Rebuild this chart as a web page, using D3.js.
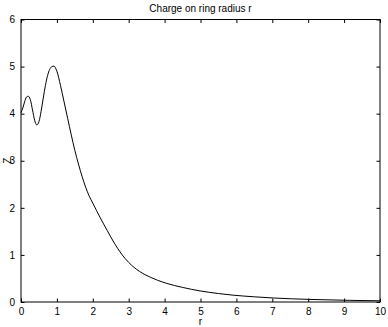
<!DOCTYPE html>
<html><head><meta charset="utf-8">
<script src="https://cdn.jsdelivr.net/npm/d3@7"></script>
<style>
html,body{margin:0;padding:0;background:#fff;}
svg text{font-family:"Liberation Sans",Arial,Helvetica,sans-serif;fill:#000;}
</style>
</head><body>
<svg id="chart" width="388" height="327"></svg>
<script>
const titleText = "Charge on ring radius r";
const xLabel = "r";
const yLabel = "Z";
const xTicks = [0,1,2,3,4,5,6,7,8,9,10];
const yTicks = [0,1,2,3,4,5,6];
const rValues = [0, 0.05, 0.1, 0.15, 0.2, 0.26, 0.32, 0.38, 0.44, 0.5, 0.56, 0.62, 0.68, 0.74, 0.8, 0.86, 0.92, 1.0, 1.1, 1.2, 1.3, 1.4, 1.5, 1.6, 1.7, 1.8, 1.9, 2.0, 2.2, 2.4, 2.6, 2.8, 3.0, 3.15, 3.3, 3.45, 3.6, 3.8, 4.06, 4.5, 4.99, 5.5, 5.91, 6.5, 7.03, 8.05, 9.16, 10];
const zValues = [4.02, 4.12, 4.25, 4.35, 4.37, 4.3, 4.08, 3.86, 3.76, 3.83, 4.05, 4.33, 4.6, 4.81, 4.94, 5.0, 5.01, 4.9, 4.6, 4.25, 3.9, 3.55, 3.22, 2.93, 2.67, 2.44, 2.25, 2.1, 1.8, 1.52, 1.25, 1.02, 0.84, 0.735, 0.65, 0.583, 0.527, 0.463, 0.395, 0.31, 0.235, 0.18, 0.145, 0.11, 0.085, 0.055, 0.035, 0.025];

const data = rValues.map((r,i)=>({r, z:zValues[i]}));
const svg = d3.select("#chart");
const m = {left:21, right:380, top:19.5, bottom:302};
const x = d3.scaleLinear().domain([0,10]).range([m.left, m.right]);
const y = d3.scaleLinear().domain([0,6]).range([m.bottom, m.top]);
const tl = 3.5;

svg.append("rect").attr("x",m.left).attr("y",m.top)
  .attr("width",m.right-m.left).attr("height",m.bottom-m.top)
  .attr("fill","none").attr("stroke","#000").attr("stroke-width",1);

const xb = svg.append("g").attr("transform",`translate(0,${m.bottom})`)
  .call(d3.axisBottom(x).tickValues(xTicks).tickSizeInner(-tl).tickSizeOuter(0).tickPadding(6).tickFormat(d3.format("d")));
const xt = svg.append("g").attr("transform",`translate(0,${m.top})`)
  .call(d3.axisTop(x).tickValues(xTicks).tickSizeInner(-tl).tickSizeOuter(0).tickFormat(""));
const yl = svg.append("g").attr("transform",`translate(${m.left},0)`)
  .call(d3.axisLeft(y).tickValues(yTicks).tickSizeInner(-tl).tickSizeOuter(0).tickPadding(6).tickFormat(d3.format("d")));
const yr = svg.append("g").attr("transform",`translate(${m.right},0)`)
  .call(d3.axisRight(y).tickValues(yTicks).tickSizeInner(-tl).tickSizeOuter(0).tickFormat(""));
[xb,xt,yl,yr].forEach(g=>{
  g.select(".domain").remove();
  g.selectAll(".tick line").attr("stroke","#000");
  g.selectAll("text").attr("font-size",10).attr("font-family","'Liberation Sans',Arial,sans-serif").attr("fill","#000");
});
xb.selectAll("text").attr("dy","0.71em");

const line = d3.line().x(d=>x(d.r)).y(d=>y(d.z)).curve(d3.curveMonotoneX);
svg.append("path").datum(data).attr("d",line)
  .attr("fill","none").attr("stroke","#000").attr("stroke-width",1);

svg.append("text").attr("x",(m.left+m.right)/2).attr("y",12).attr("text-anchor","middle")
  .attr("font-size",10).text(titleText);
svg.append("text").attr("x",(m.left+m.right)/2).attr("y",325).attr("text-anchor","middle")
  .attr("font-size",10).text(xLabel);
svg.append("text").attr("transform",`translate(11,${(m.top+m.bottom)/2}) rotate(-90)`)
  .attr("text-anchor","middle").attr("font-size",10).text(yLabel);
</script>
</body></html>
